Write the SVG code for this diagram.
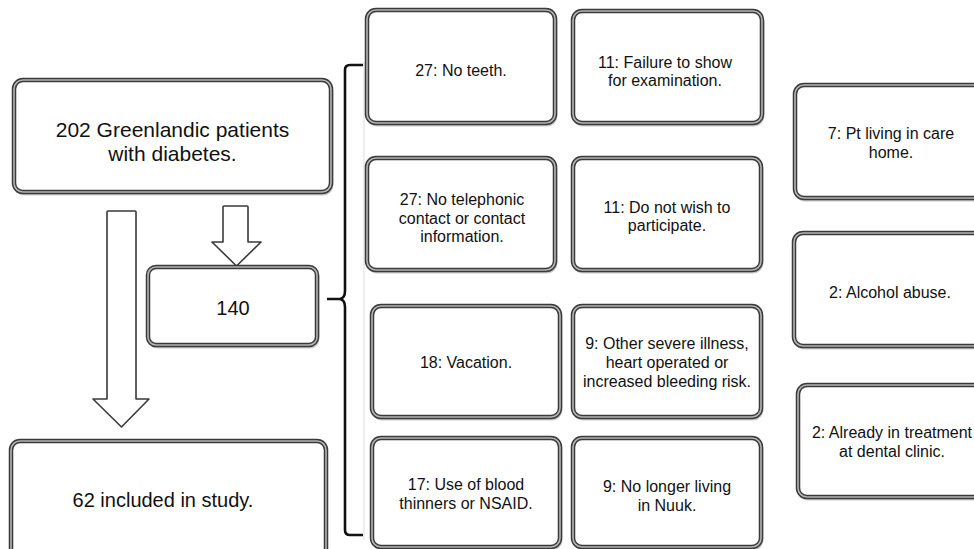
<svg xmlns="http://www.w3.org/2000/svg" width="974" height="549" viewBox="0 0 974 549">
<style>
.sh{fill:none;stroke:#c8c8c8;stroke-width:3}
.bo{fill:#fff;stroke:#3a3a3a;stroke-width:4.5}
.bi{fill:none;stroke:#b4b4b4;stroke-width:1.6}
text{font-family:"Liberation Sans",Arial,sans-serif;fill:#111;text-anchor:middle}
.s{font-size:16px}
.l{font-size:21px}
.m{font-size:20px}
.arr{fill:#fff;stroke:#3a3a3a;stroke-width:1.6;stroke-linejoin:round}
.brace{fill:none;stroke:#111;stroke-width:2.6;stroke-linejoin:round}
</style>
<rect width="974" height="549" fill="#fff"/>
<line x1="364" y1="62" x2="364" y2="540" stroke="#e2e2e2" stroke-width="1.2"/>
<g id="connectors">
<path class="arr" d="M223,207 Q223,206 224,206 L247,206 Q248,206 248,207 L248,242 L261,242 L236.5,266 L212,242 L223,242 Z"/>
<path class="arr" d="M107,212 Q107,211 108,211 L135,211 Q136,211 136,212 L136,399 L149,399 L121.5,427 L93,399 L107,399 Z"/>
<path class="brace" d="M363,65 L350,65 Q345,65 345,70 L345,291 Q345,298 340,299 L327,299 M340,299 Q345,300 345,307 L345,530 Q345,535 350,535 L363,535"/>
</g>
<g id="n202"><rect class="sh" x="15" y="82" width="317" height="112" rx="9"/><rect class="bo" x="14" y="80" width="317" height="112" rx="9"/><rect class="bi" x="14" y="80" width="317" height="112" rx="9"/><text class="l" x="172.5" y="137">202 Greenlandic patients</text><text class="l" x="172.5" y="161">with diabetes.</text></g>
<g id="n140"><rect class="sh" x="149" y="269" width="169" height="78" rx="8"/><rect class="bo" x="148" y="267" width="169" height="78" rx="8"/><rect class="bi" x="148" y="267" width="169" height="78" rx="8"/><text class="m" x="233" y="315">140</text></g>
<g id="n62"><rect class="bo" x="11" y="441" width="315" height="130" rx="9"/><rect class="bi" x="11" y="441" width="315" height="130" rx="9"/><text class="m" x="163" y="507">62 included in study.</text></g>
<g id="r1c1"><rect class="sh" x="368" y="12" width="188" height="113" rx="9"/><rect class="bo" x="367" y="10" width="188" height="113" rx="9"/><rect class="bi" x="367" y="10" width="188" height="113" rx="9"/><text class="s" x="461" y="76">27: No teeth.</text></g>
<g id="r1c2"><rect class="sh" x="574" y="13" width="189" height="112" rx="9"/><rect class="bo" x="573" y="11" width="189" height="112" rx="9"/><rect class="bi" x="573" y="11" width="189" height="112" rx="9"/><text class="s" x="665" y="68">11: Failure to show</text><text class="s" x="665" y="86">for examination.</text></g>
<g id="r2c1"><rect class="sh" x="368" y="160" width="188" height="112" rx="9"/><rect class="bo" x="367" y="158" width="188" height="112" rx="9"/><rect class="bi" x="367" y="158" width="188" height="112" rx="9"/><text class="s" x="462" y="205">27: No telephonic</text><text class="s" x="462" y="223.5">contact or contact</text><text class="s" x="462" y="242">information.</text></g>
<g id="r2c2"><rect class="sh" x="574" y="160" width="188" height="112" rx="9"/><rect class="bo" x="573" y="158" width="188" height="112" rx="9"/><rect class="bi" x="573" y="158" width="188" height="112" rx="9"/><text class="s" x="667" y="213">11: Do not wish to</text><text class="s" x="667" y="231">participate.</text></g>
<g id="r3c1"><rect class="sh" x="373" y="308" width="188" height="111" rx="9"/><rect class="bo" x="372" y="306" width="188" height="111" rx="9"/><rect class="bi" x="372" y="306" width="188" height="111" rx="9"/><text class="s" x="466" y="368">18: Vacation.</text></g>
<g id="r3c2"><rect class="sh" x="574" y="308" width="188" height="111" rx="9"/><rect class="bo" x="573" y="306" width="188" height="111" rx="9"/><rect class="bi" x="573" y="306" width="188" height="111" rx="9"/><text class="s" x="667" y="349">9: Other severe illness,</text><text class="s" x="667" y="368">heart operated or</text><text class="s" x="667" y="387">increased bleeding risk.</text></g>
<g id="r4c1"><rect class="sh" x="373" y="440" width="188" height="109" rx="9"/><rect class="bo" x="372" y="438" width="188" height="109" rx="9"/><rect class="bi" x="372" y="438" width="188" height="109" rx="9"/><text class="s" x="466" y="490">17: Use of blood</text><text class="s" x="466" y="509">thinners or NSAID.</text></g>
<g id="r4c2"><rect class="sh" x="574" y="440" width="188" height="109" rx="9"/><rect class="bo" x="573" y="438" width="188" height="109" rx="9"/><rect class="bi" x="573" y="438" width="188" height="109" rx="9"/><text class="s" x="667" y="492">9: No longer living</text><text class="s" x="667" y="511">in Nuuk.</text></g>
<g id="right1"><rect class="sh" x="796" y="87" width="200" height="113" rx="9"/><rect class="bo" x="795" y="85" width="200" height="113" rx="9"/><rect class="bi" x="795" y="85" width="200" height="113" rx="9"/><text class="s" x="891" y="139">7: Pt living in care</text><text class="s" x="891" y="158">home.</text></g>
<g id="right2"><rect class="sh" x="795" y="235" width="200" height="113" rx="9"/><rect class="bo" x="794" y="233" width="200" height="113" rx="9"/><rect class="bi" x="794" y="233" width="200" height="113" rx="9"/><text class="s" x="890" y="298">2: Alcohol abuse.</text></g>
<g id="right3"><rect class="sh" x="799" y="387" width="200" height="112" rx="9"/><rect class="bo" x="798" y="385" width="200" height="112" rx="9"/><rect class="bi" x="798" y="385" width="200" height="112" rx="9"/><text class="s" x="892" y="438">2: Already in treatment</text><text class="s" x="892" y="457">at dental clinic.</text></g>
</svg>
